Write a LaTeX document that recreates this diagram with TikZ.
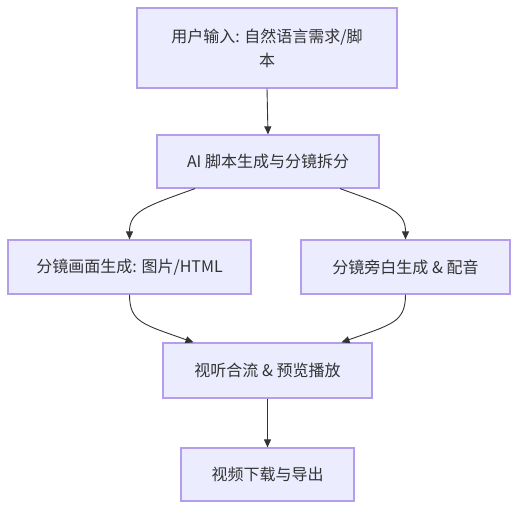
\documentclass[tikz,border=0pt]{standalone}
\usepackage{fontspec}
\setmainfont{Noto Sans CJK SC}
\usetikzlibrary{arrows.meta}
\definecolor{boxfill}{HTML}{ECECFF}
\definecolor{boxline}{HTML}{B49DEB}
\definecolor{edgecol}{HTML}{333333}
\definecolor{txt}{HTML}{333333}
\begin{document}
\begin{tikzpicture}[x=1pt,y=-1pt,
  box/.style={draw=boxline,fill=boxfill,line width=1.2pt,inner sep=0pt,
    text=txt,font=\fontsize{16}{24}\selectfont,align=center},
  edge/.style={draw=edgecol,line width=0.9pt,-{Triangle[length=8pt,width=7pt]}}]
\useasboundingbox (0,0) rectangle (518,510);
\node[box,minimum width=260,minimum height=80] (a) at (267,48) {用户输入: 自然语言需求/脚\\本};
\node[box,minimum width=222,minimum height=53] (b) at (268,161.5) {AI 脚本生成与分镜拆分};
\node[box,minimum width=243,minimum height=54] (c) at (129.5,267) {分镜画面生成: 图片/HTML};
\node[box,minimum width=209,minimum height=54] (d) at (405.5,267) {分镜旁白生成 \& 配音};
\node[box,minimum width=209,minimum height=55] (e) at (267.5,370.5) {视听合流 \& 预览播放};
\node[box,minimum width=173,minimum height=53] (f) at (267.5,474.5) {视频下载与导出};
\draw[edge] (a.south) -- (b.north);
\draw[edge] ([xshift=-73pt]b.south) .. controls ++(-50,18) and ++(0,-28) .. (c.north);
\draw[edge] ([xshift=72pt]b.south) .. controls ++(50,18) and ++(0,-28) .. (d.north);
\draw[edge] (c.south) .. controls ++(0,28) and ++(-50,-18) .. ([xshift=-74pt]e.north);
\draw[edge] (d.south) .. controls ++(0,28) and ++(50,-18) .. ([xshift=74pt]e.north);
\draw[edge] (e.south) -- (f.north);
\end{tikzpicture}
\end{document}
